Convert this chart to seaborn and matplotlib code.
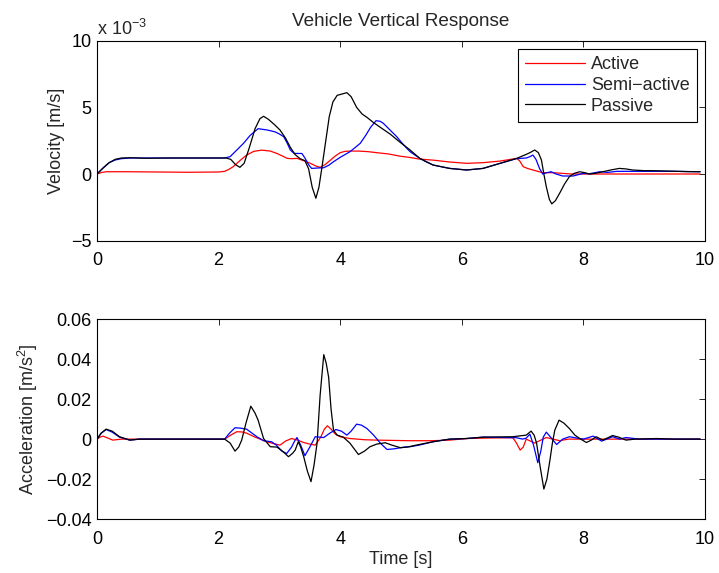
#!/usr/bin/env python3

import matplotlib
matplotlib.use("Agg")
import matplotlib.pyplot as plt
import pandas as pd
import seaborn as sns

# Velocity, in units of 1e-3 m/s
vel_active_t = [0, 0.08, 0.15, 0.5, 1.0, 1.5, 2.0, 2.1, 2.17, 2.24, 2.35, 2.46, 2.58, 2.71, 2.85,
                2.96, 3.05, 3.13, 3.2, 3.29, 3.4, 3.51, 3.6, 3.67, 3.75, 3.84, 3.92, 4.0, 4.08,
                4.16, 4.3, 4.45, 4.6, 4.8, 4.98, 5.15, 5.3, 5.53, 5.8, 6.08, 6.35, 6.63, 6.9,
                6.95, 7.01, 7.08, 7.17, 7.25, 7.33, 7.5, 7.65, 7.8, 8.0, 9.0, 9.92]
vel_active = [0, 0.12, 0.17, 0.17, 0.15, 0.13, 0.15, 0.2, 0.35, 0.55, 1.0, 1.42, 1.7, 1.79, 1.72,
              1.54, 1.35, 1.17, 1.15, 1.17, 1.0, 0.8, 0.6, 0.5, 0.7, 1.04, 1.35, 1.6, 1.7,
              1.72, 1.72, 1.68, 1.6, 1.5, 1.34, 1.24, 1.12, 1.04, 0.9, 0.8, 0.85, 0.97, 1.17,
              1.0, 0.55, 0.42, 0.3, 0.2, 0.1, 0.1, 0.05, 0.0, 0.0, 0.0, 0.0]

vel_semi_t = [0, 0.1, 0.2, 0.3, 0.4, 0.55, 1.0, 1.6, 2.1, 2.19, 2.3, 2.41, 2.52, 2.65, 2.8, 2.93,
              3.0, 3.07, 3.13, 3.18, 3.24, 3.29, 3.37, 3.42, 3.48, 3.53, 3.63, 3.73, 3.81, 3.89,
              4.0, 4.16, 4.25, 4.33, 4.42, 4.5, 4.59, 4.66, 4.71, 4.82, 4.93, 5.04, 5.15, 5.31,
              5.53, 5.8, 6.08, 6.35, 6.63, 6.9, 7.06, 7.12, 7.17, 7.22, 7.28, 7.33, 7.4, 7.47,
              7.55, 7.66, 7.83, 8.0, 8.1, 8.27, 8.4, 8.55, 8.7, 8.9, 9.2, 9.5, 9.92]
vel_semi = [0, 0.45, 0.85, 1.05, 1.15, 1.2, 1.2, 1.2, 1.2, 1.3, 1.8, 2.3, 2.9, 3.4, 3.3, 3.16,
            3.0, 2.8, 2.3, 1.8, 1.55, 1.54, 1.54, 1.2, 0.7, 0.42, 0.45, 0.47, 0.65, 0.92,
            1.25, 1.67, 2.0, 2.3, 2.9, 3.5, 4.0, 3.95, 3.8, 3.3, 2.8, 2.2, 1.67, 1.17,
            0.67, 0.42, 0.3, 0.42, 0.8, 1.15, 1.2, 1.3, 1.42, 1.1, 0.4, 0.0, 0.1, 0.17,
            0.0, -0.15, -0.15, 0.05, 0.02, 0.17, 0.12, 0.2, 0.2, 0.2, 0.2, 0.2, 0.17]

vel_pass_t = [0, 0.1, 0.2, 0.3, 0.4, 0.55, 0.8, 1.2, 1.6, 2.0, 2.12, 2.2, 2.28, 2.35, 2.42, 2.5,
              2.6, 2.68, 2.74, 2.82, 2.92, 3.01, 3.1, 3.18, 3.26, 3.34, 3.42, 3.48, 3.54, 3.6,
              3.65, 3.7, 3.76, 3.82, 3.88, 3.95, 4.03, 4.11, 4.18, 4.27, 4.36, 4.44, 4.55, 4.66,
              4.82, 4.98, 5.15, 5.31, 5.42, 5.53, 5.8, 6.08, 6.35, 6.63, 6.9, 7.05, 7.12, 7.2,
              7.26, 7.31, 7.35, 7.39, 7.44, 7.48, 7.54, 7.61, 7.69, 7.77, 7.85, 7.94, 8.02, 8.1,
              8.2, 8.32, 8.45, 8.59, 8.7, 8.81, 9.0, 9.14, 9.4, 9.7, 9.92]
vel_pass = [0, 0.45, 0.85, 1.1, 1.2, 1.22, 1.18, 1.2, 1.2, 1.2, 1.2, 1.1, 0.7, 0.5, 0.8, 1.9,
            3.4, 4.15, 4.33, 4.1, 3.7, 3.3, 2.7, 2.0, 1.45, 1.15, 1.0, 0.4, -1.0, -1.82,
            -1.0, 0.5, 2.4, 4.3, 5.4, 5.9, 6.0, 6.1, 5.8, 5.0, 4.5, 4.25, 3.85, 3.5,
            3.0, 2.4, 1.8, 1.17, 0.9, 0.67, 0.42, 0.3, 0.42, 0.8, 1.17, 1.45, 1.6, 1.8,
            1.6, 1.05, 0.0, -0.95, -1.9, -2.24, -2.0, -1.44, -0.75, -0.2, 0.05, 0.17, 0.1, 0.0,
            0.05, 0.17, 0.3, 0.42, 0.38, 0.3, 0.25, 0.25, 0.22, 0.18, 0.17]

# Acceleration, m/s^2
acc_active_t = [0, 0.05, 0.1, 0.18, 0.26, 0.4, 2.1, 2.2, 2.3, 2.38, 2.46, 2.6, 2.79, 2.9, 3.01,
                3.1, 3.2, 3.3, 3.4, 3.5, 3.59, 3.68, 3.74, 3.79, 3.85, 3.92, 4.0, 4.16, 4.4,
                4.6, 5.15, 5.5, 5.8, 6.08, 6.5, 6.84, 6.9, 6.96, 7.01, 7.06, 7.13, 7.2, 7.3,
                7.39, 7.5, 7.61, 7.75, 9.92]
acc_active = [0, 0.001, 0.0015, 0.0005, -0.0005, 0.0, 0.0, 0.002, 0.0037, 0.0036, 0.003, 0.001,
              -0.0013, -0.0022, -0.003, -0.001, 0.0003, -0.0005, -0.0017, -0.0025, -0.003, 0.001,
              0.005, 0.0067, 0.005, 0.0025, 0.0012, 0.0003, -0.0003, -0.0005, -0.0008, -0.0008,
              -0.0005, 0.0003, 0.0006, 0.0007, -0.002, -0.0055, -0.004, 0.0, -0.001, -0.002,
              -0.0005, 0.0008, 0.0, -0.0008, 0.0, 0.0]

acc_semi_t = [0, 0.07, 0.15, 0.25, 0.37, 0.54, 0.7, 2.1, 2.18, 2.27, 2.36, 2.46, 2.55, 2.63, 2.74,
              2.87, 2.95, 3.04, 3.12, 3.2, 3.25, 3.29, 3.35, 3.42, 3.5, 3.59, 3.66, 3.73, 3.83,
              3.93, 4.02, 4.11, 4.18, 4.27, 4.35, 4.44, 4.55, 4.66, 4.77, 4.9, 5.05, 5.15, 5.3,
              5.53, 5.8, 6.08, 6.35, 6.9, 7.0, 7.06, 7.12, 7.18, 7.25, 7.3, 7.34, 7.39, 7.46,
              7.56, 7.66, 7.77, 7.9, 8.0, 8.16, 8.3, 8.48, 8.6, 8.7, 8.92, 9.92]
acc_semi = [0, 0.003, 0.0048, 0.0035, 0.001, -0.0005, 0, 0, 0.003, 0.0057, 0.0055, 0.005, 0.003,
            0.0012, -0.0008, -0.0013, -0.003, -0.006, -0.0072, -0.004, -0.001, 0.0008, -0.003,
            -0.0083, -0.004, 0.0012, 0.001, 0.0008, 0.003, 0.0048, 0.004, 0.002, 0.004, 0.0075,
            0.007, 0.0053, 0.002, -0.002, -0.0052, -0.0048, -0.004, -0.0038, -0.003, -0.0013,
            0.0, 0.0003, 0.001, 0.0007, 0.0, 0.0005, 0.0025, -0.003, -0.0118, -0.006, 0.001,
            0.0035, 0.001, -0.0027, 0.0, 0.0012, 0.0005, 0.0, 0.0015, -0.001, 0.0012, 0.0,
            0.0008, 0.0, 0.0]

acc_pass_t = [0, 0.07, 0.15, 0.25, 0.37, 0.54, 0.7, 2.1, 2.19, 2.27, 2.33, 2.38, 2.45, 2.53, 2.6,
              2.65, 2.74, 2.85, 2.96, 3.05, 3.15, 3.22, 3.26, 3.31, 3.35, 3.4, 3.46, 3.52, 3.57,
              3.62, 3.67, 3.73, 3.77, 3.81, 3.85, 3.89, 3.95, 4.05, 4.16, 4.3, 4.4, 4.49, 4.6,
              4.74, 4.85, 4.99, 5.1, 5.25, 5.53, 5.8, 6.08, 6.35, 6.84, 7.06, 7.14, 7.19, 7.23,
              7.29, 7.35, 7.4, 7.45, 7.49, 7.53, 7.6, 7.68, 7.77, 7.86, 7.94, 8.05, 8.13, 8.21,
              8.32, 8.48, 8.58, 8.7, 8.85, 9.2, 9.5, 9.92]
acc_pass = [0, 0.003, 0.005, 0.004, 0.0012, -0.0005, 0, 0, -0.002, -0.006, -0.004, -0.0005, 0.008,
            0.0165, 0.013, 0.0095, 0.0003, -0.0038, -0.004, -0.006, -0.0088, -0.007, -0.0055,
            -0.0013, -0.004, -0.0088, -0.016, -0.0213, -0.013, -0.002, 0.022, 0.0423, 0.038,
            0.031, 0.015, 0.0045, 0.002, 0.001, -0.002, -0.0077, -0.006, -0.0038, -0.0025,
            -0.0018, -0.003, -0.0043, -0.004, -0.003, -0.0013, 0.0, 0.0003, 0.001, 0.0012,
            0.002, 0.004, 0.002, -0.002, -0.014, -0.025, -0.02, -0.0105, -0.002, 0.0045, 0.0095,
            0.008, 0.0053, 0.002, 0.0003, -0.0017, -0.0005, 0.0012, -0.0005, 0.0018, 0.001,
            -0.0005, 0.0, 0.0003, 0.0, 0.0]

series = ["Active", "Semi\u2212active", "Passive"]
colors = {"Active": "#ff0000", "Semi\u2212active": "#0000ff", "Passive": "#000000"}


def long_frame(pairs):
    frames = []
    for name, (t, y) in zip(series, pairs):
        frames.append(pd.DataFrame({"t": t, "y": y, "series": name}))
    return pd.concat(frames, ignore_index=True)


vel_df = long_frame([(vel_active_t, vel_active), (vel_semi_t, vel_semi), (vel_pass_t, vel_pass)])
acc_df = long_frame([(acc_active_t, acc_active), (acc_semi_t, acc_semi), (acc_pass_t, acc_pass)])

sns.set_style("white")
plt.rcParams["font.family"] = ["Liberation Sans", "DejaVu Sans"]
plt.rcParams["mathtext.fontset"] = "custom"
plt.rcParams["mathtext.rm"] = "Liberation Sans"
plt.rcParams["mathtext.it"] = "Liberation Sans"
fs = 13

fig = plt.figure(figsize=(7.19, 5.73), dpi=100)
ax1 = fig.add_axes([0.1349, 0.580, 0.8456, 0.349])
ax2 = fig.add_axes([0.1349, 0.0942, 0.8456, 0.3486])

for ax, df in [(ax1, vel_df), (ax2, acc_df)]:
    sns.lineplot(data=df, x="t", y="y", hue="series", hue_order=series, palette=colors,
                 estimator=None, sort=False, linewidth=0.9, ax=ax, legend=(ax is ax1))
    ax.set_xlim(0, 10)
    ax.set_xticks([0, 2, 4, 6, 8, 10])
    ax.tick_params(direction="in", top=True, right=True, length=4, width=0.6,
                   labelsize=fs, colors="black")
    ax.tick_params(axis="y", pad=4)
    ax.tick_params(axis="x", pad=8.5)
    for sp in ax.spines.values():
        sp.set_linewidth(0.8)
        sp.set_color("black")
    ax.set_xlabel("")

ax1.set_ylim(-5, 10)
ax1.set_yticks([-5, 0, 5, 10])
ax1.set_ylabel("Velocity [m/s]", fontsize=fs, labelpad=4)
ax1.set_title("Vehicle Vertical Response", fontsize=13.6, pad=10.5)
ax1.text(0.0, 1.01, r"x 10$^{-3}$", transform=ax1.transAxes, fontsize=fs,
         ha="left", va="bottom")

ax2.set_ylim(-0.04, 0.06)
ax2.set_yticks([-0.04, -0.02, 0, 0.02, 0.04, 0.06])
ax2.set_yticklabels(["\u22120.04", "\u22120.02", "0", "0.02", "0.04", "0.06"])
ax2.set_ylabel("Acceleration [m/s$^2$]", fontsize=fs, labelpad=4)
ax2.set_xlabel("Time [s]", fontsize=fs, labelpad=2)

leg = ax1.legend(loc="upper right", fontsize=fs, frameon=True, fancybox=False,
                 edgecolor="black", framealpha=1, handlelength=3.3,
                 borderaxespad=0.45, labelspacing=0.21, handletextpad=0.35,
                 borderpad=0.4)
leg.get_frame().set_linewidth(0.8)
for line in leg.get_lines():
    line.set_linewidth(0.9)

fig.savefig("out.png", dpi=100)
